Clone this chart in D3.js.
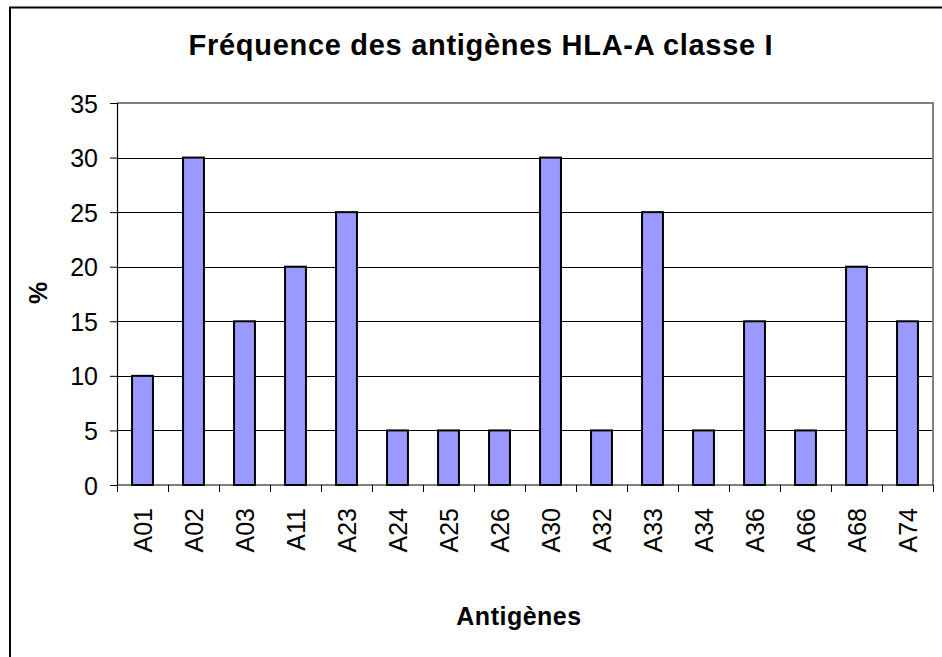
<!DOCTYPE html>
<html>
<head>
<meta charset="utf-8">
<script src="https://cdn.jsdelivr.net/npm/d3@7"></script>
<style>
  body { margin: 0; background: #fff; }
  svg { display: block; font-family: "Liberation Sans", Arial, sans-serif; }
</style>
</head>
<body>
<svg width="942" height="657"></svg>
<script>
var categories = ["A01","A02","A03","A11","A23","A24","A25","A26","A30","A32","A33","A34","A36","A66","A68","A74"];
var values = [10, 30, 15, 20, 25, 5, 5, 5, 30, 5, 25, 5, 15, 5, 20, 15];
var yTicks = [0, 5, 10, 15, 20, 25, 30, 35];

var svg = d3.select("svg"),
    margin = {top: 103, right: 9, bottom: 172, left: 117},
    w = +svg.attr("width") - margin.left - margin.right,
    h = +svg.attr("height") - margin.top - margin.bottom;

// outer frame (runs off the right and bottom edge)
svg.append("rect")
    .attr("x", 10).attr("y", 7.5)
    .attr("width", 1000).attr("height", 1000)
    .attr("fill", "none")
    .attr("stroke", "#000")
    .attr("stroke-width", 2);

var xScale = d3.scaleBand().domain(categories).range([0, w]),
    yScale = d3.scaleLinear().domain([0, 35]).range([h, 0]);

var g = svg.append("g")
    .attr("transform", "translate(" + margin.left + "," + margin.top + ")");

// gridlines
g.selectAll(".grid")
  .data(yTicks.filter(function(d) { return d > 0 && d < 35; }))
  .enter().append("line")
    .attr("x1", 0).attr("x2", w)
    .attr("y1", function(d) { return Math.round(yScale(d)) + 0.5; })
    .attr("y2", function(d) { return Math.round(yScale(d)) + 0.5; })
    .attr("stroke", "#000")
    .attr("stroke-width", 1);

// plot frame top/right in grey
g.append("path")
    .attr("d", "M0," + 0 + "H" + w + "V" + h)
    .attr("fill", "none")
    .attr("stroke", "#808080")
    .attr("stroke-width", 2);

// bars
var barW = xScale.bandwidth() * 0.41;
g.selectAll(".bar")
  .data(values)
  .enter().append("rect")
    .attr("class", "bar")
    .attr("x", function(d, i) { return xScale(categories[i]) + (xScale.bandwidth() - barW) / 2; })
    .attr("y", function(d) { return yScale(d); })
    .attr("width", barW)
    .attr("height", function(d) { return h - yScale(d); })
    .attr("fill", "#9999ff")
    .attr("stroke", "#000")
    .attr("stroke-width", 2);

// y axis
var yAxis = g.append("g")
    .call(d3.axisLeft(yScale).tickValues(yTicks).tickSize(7).tickPadding(12));
yAxis.select(".domain").attr("stroke", "#000").attr("stroke-width", 1.2);
yAxis.selectAll(".tick line").attr("stroke", "#000");
yAxis.selectAll(".tick text")
    .attr("font-size", "25px")
    .attr("font-family", "Liberation Sans, Arial, sans-serif")
    .attr("fill", "#000")
    .attr("dy", "0.36em");

// x axis: ticks on category boundaries
var xg = g.append("g").attr("transform", "translate(0," + h + ")");
xg.append("line")
    .attr("x1", 0).attr("x2", w)
    .attr("stroke", "#000").attr("stroke-width", 1.2);
xg.selectAll(".xtick")
  .data(categories.concat(["_end"]))
  .enter().append("line")
    .attr("x1", function(d, i) { return Math.round(i * xScale.step()) + 0.5; })
    .attr("x2", function(d, i) { return Math.round(i * xScale.step()) + 0.5; })
    .attr("y1", 0).attr("y2", 7)
    .attr("stroke", "#000");
xg.selectAll(".xlabel")
  .data(categories)
  .enter().append("text")
    .attr("transform", function(d) {
      return "translate(" + (xScale(d) + xScale.bandwidth() / 2) + ",23) rotate(-90)";
    })
    .attr("text-anchor", "end")
    .attr("dy", "0.36em")
    .attr("font-size", "25px")
    .attr("fill", "#000")
    .text(function(d) { return d; });

// title
svg.append("text")
    .attr("x", 481)
    .attr("y", 55)
    .attr("text-anchor", "middle")
    .attr("font-weight", "bold")
    .attr("font-size", "29px")
    .attr("letter-spacing", "0.7px")
    .text("Fréquence des antigènes HLA-A classe I");

// axis titles
svg.append("text")
    .attr("transform", "translate(38,293) rotate(-90)")
    .attr("text-anchor", "middle")
    .attr("dy", "0.36em")
    .attr("font-weight", "bold")
    .attr("font-size", "25px")
    .text("%");

svg.append("text")
    .attr("x", 519)
    .attr("y", 625)
    .attr("text-anchor", "middle")
    .attr("font-weight", "bold")
    .attr("font-size", "25px")
    .attr("letter-spacing", "0.5px")
    .text("Antigènes");
</script>
</body>
</html>
